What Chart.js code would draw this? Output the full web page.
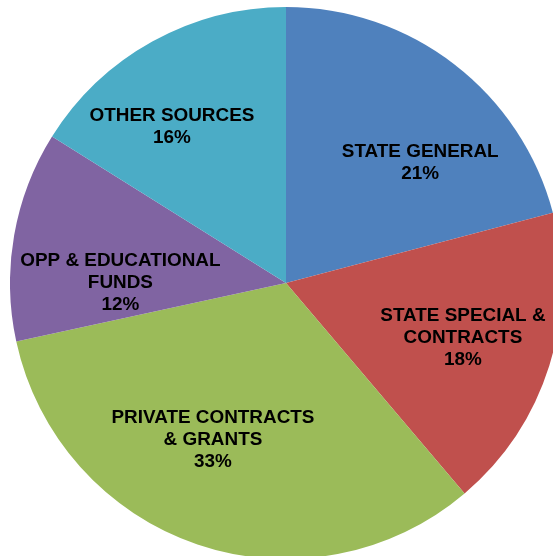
<!DOCTYPE html>
<html>
<head>
<meta charset="utf-8">
<script src="https://cdn.jsdelivr.net/npm/chart.js@4/dist/chart.umd.min.js"></script>
<style>
  html, body { margin: 0; padding: 0; background: #fff; overflow: hidden; width: 553px; height: 556px; }
  #wrap { position: absolute; left: 10px; top: 7px; width: 552px; height: 552px; }
</style>
</head>
<body>
<div id="wrap"><canvas id="pie"></canvas></div>
<script>
const LABELS = [
  ['STATE GENERAL'],
  ['STATE SPECIAL &', 'CONTRACTS'],
  ['PRIVATE CONTRACTS', '& GRANTS'],
  ['OPP & EDUCATIONAL', 'FUNDS'],
  ['OTHER SOURCES']
];
const VALUES = [20.9, 17.9, 32.8, 12.3, 16.1];
const COLORS_ = ['#4F81BD', '#C0504D', '#9BBB59', '#8064A2', '#4BACC6'];

// label placement: radius fraction and angle shift (degrees) from slice middle
const LABEL_R = [0.652, 0.672, 0.628, 0.60, 0.70];
const LABEL_SHIFT = [10.6, 0, 6.2, -9.9, -7.2];

const sliceLabels = {
  id: 'sliceLabels',
  afterDatasetsDraw(chart) {
    const ctx = chart.ctx;
    const meta = chart.getDatasetMeta(0);
    const total = VALUES.reduce((a, b) => a + b, 0);
    ctx.save();
    ctx.fillStyle = '#000';
    ctx.font = 'bold 17.5px "Liberation Sans", Arial, sans-serif';
    ctx.textAlign = 'center';
    ctx.textBaseline = 'middle';
    const sx = 1.08;
    meta.data.forEach((arc, i) => {
      const p = arc.getProps(['x', 'y', 'startAngle', 'endAngle', 'outerRadius'], true);
      const mid = (p.startAngle + p.endAngle) / 2 + LABEL_SHIFT[i] * Math.PI / 180;
      const r = p.outerRadius * LABEL_R[i];
      const cx = p.x + Math.cos(mid) * r;
      const cy = p.y + Math.sin(mid) * r;
      const lines = [...LABELS[i], Math.round(VALUES[i] / total * 100) + '%'];
      const lh = 22;
      const y0 = cy - (lines.length - 1) * lh / 2;
      lines.forEach((t, k) => {
        ctx.save();
        ctx.translate(cx, y0 + k * lh);
        ctx.scale(sx, 1);
        ctx.fillText(t, 0, 0);
        ctx.restore();
      });
    });
    ctx.restore();
  }
};

new Chart(document.getElementById('pie'), {
  type: 'pie',
  data: {
    labels: LABELS.map(l => l.join(' ')),
    datasets: [{ data: VALUES, backgroundColor: COLORS_, borderWidth: 0 }]
  },
  options: {
    responsive: true,
    maintainAspectRatio: false,
    animation: false,
    layout: { padding: 0 },
    plugins: { legend: { display: false }, tooltip: { enabled: false } }
  },
  plugins: [sliceLabels]
});
</script>
</body>
</html>
